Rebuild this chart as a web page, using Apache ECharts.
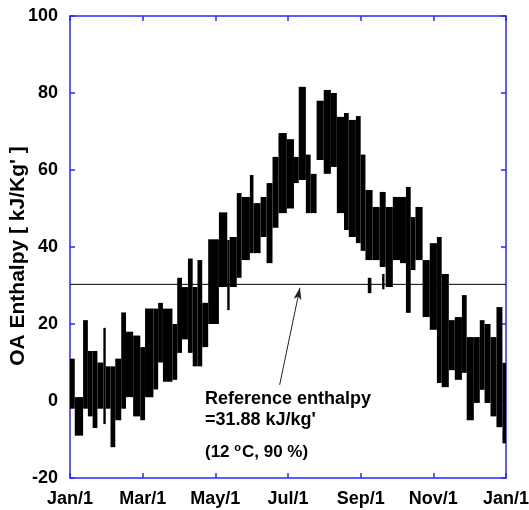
<!DOCTYPE html>
<html>
<head>
<meta charset="utf-8">
<script src="https://cdn.jsdelivr.net/npm/echarts@6/dist/echarts.min.js"></script>
<style>
  html, body { margin: 0; padding: 0; background: #fff; }
  #chart { width: 529px; height: 510px; }
</style>
</head>
<body>
<div id="chart"></div>
<script>
// x axis: day of year, one tick every 2 months
var monthLabels = ['Jan/1', 'Mar/1', 'May/1', 'Jul/1', 'Sep/1', 'Nov/1', 'Jan/1'];
var yTicks = [-20, 0, 20, 40, 60, 80, 100];

var dayFrom = [0, 4, 11, 15, 19, 23, 28, 30, 34, 38, 43, 47, 53, 59, 63, 70, 74, 78, 86, 90,
  94, 99, 103, 107, 111, 116, 125, 132, 134, 140, 144, 151, 154, 160, 165, 170, 175, 182, 188, 192,
  198, 202, 207, 213, 219, 224, 230, 234, 240, 244, 248, 254, 260, 265, 271, 277, 282, 286, 290, 296,
  302, 308, 312, 318, 323, 329, 333, 339, 344, 348, 353, 358, 363, 250, 262];
var dayTo = [4, 11, 15, 19, 23, 28, 30, 34, 38, 43, 47, 53, 59, 63, 70, 74, 78, 86, 90, 94,
  99, 103, 107, 111, 116, 125, 132, 134, 140, 144, 151, 154, 160, 165, 170, 175, 182, 188, 192, 198,
  202, 207, 213, 219, 224, 230, 234, 240, 244, 248, 254, 260, 265, 271, 277, 282, 286, 290, 296, 302,
  308, 312, 318, 323, 329, 333, 339, 344, 348, 353, 358, 363, 366, 253, 264];
var lowVal = [-2, -9, -2, -4, -7, -2, -6, -2, -12, -5, -2, 1, -4, -5, 1, 3, 10, 5, 5.5, 12.5,
  16, 12.5, 9, 9, 14, 20, 29.6, 23.6, 29.6, 32, 36.6, 38.4, 38.4, 42.6, 35.8, 45, 48.8, 50, 56.6, 57.4,
  48.8, 48.8, 62.6, 59, 60.8, 48.8, 44.4, 42.6, 41, 39, 36.6, 36.6, 34.8, 29.6, 36.6, 35.8, 22.9, 34, 36.6, 21.8,
  18.5, 4.7, 3.6, 8, 5.5, 7.3, -5, -0.5, 2.9, -0.5, -4, -6.8, -11, 28, 29];
var highVal = [11, 1, 21, 13, 13, 10, 19, 9, 9, 11, 23, 18, 17, 14, 24, 24, 25.5, 24, 20, 32,
  29.6, 37, 29.6, 36.6, 25.5, 42, 49, 41.8, 42.6, 54, 53, 58.7, 51.4, 53, 56.6, 63.4, 69.6, 68, 63.4, 81.6,
  64, 59, 78, 80.8, 80, 73.8, 74.8, 73, 74, 64, 54.8, 50.4, 54.3, 50.4, 53, 53, 55.6, 47.8, 50.4, 36.6,
  41, 42.6, 33, 21, 21.8, 27.5, 16.6, 16.6, 21, 20, 16.6, 24.4, 9.9, 32, 33];

var refValue = 30.3;
var arrowFrom = [176, 4.2];
var arrowTo = [193, 29.4];

var font = 'Arial, "Liberation Sans", sans-serif';
var axisBlue = '#2a2aff';

var blocks = [];
for (var i = 0; i < dayFrom.length; i++) {
  blocks.push([dayFrom[i], dayTo[i], lowVal[i], highVal[i]]);
}

var chart = echarts.init(document.getElementById('chart'));

var xBase = {
  type: 'value',
  min: 0,
  max: 366,
  interval: 61,
  axisLine: { show: true, onZero: false, lineStyle: { color: axisBlue, width: 1.5 } },
  axisTick: { show: true, inside: true, length: 5, lineStyle: { color: axisBlue, width: 1.5 } },
  splitLine: { show: false }
};
var yBase = {
  type: 'value',
  min: -20,
  max: 100,
  interval: 20,
  axisLine: { show: true, onZero: false, lineStyle: { color: axisBlue, width: 1.5 } },
  axisTick: { show: true, inside: true, length: 5, lineStyle: { color: axisBlue, width: 1.5 } },
  splitLine: { show: false }
};

var option = {
  animation: false,
  backgroundColor: '#fff',
  grid: { left: 70, right: 23, top: 16, bottom: 32, containLabel: false, outerBoundsMode: 'none' },
  xAxis: [
    Object.assign({}, xBase, {
      position: 'bottom',
      axisLabel: {
        color: '#000', fontFamily: font, fontWeight: 'bold', fontSize: 18, margin: 12,
        formatter: function (v) { return monthLabels[Math.round(v / 61)]; }
      }
    }),
    Object.assign({}, xBase, { position: 'top', axisLabel: { show: false } })
  ],
  yAxis: [
    Object.assign({}, yBase, {
      position: 'left',
      name: "OA Enthalpy [ kJ/Kg' ]",
      nameLocation: 'middle',
      nameGap: 41,
      nameMoveOverlap: false,
      nameTextStyle: { color: '#000', fontFamily: font, fontWeight: 'bold', fontSize: 21, padding: [0, 18, 0, 0] },
      axisLabel: {
        color: '#000', fontFamily: font, fontWeight: 'bold', fontSize: 18, margin: 12,
        formatter: function (v) { return yTicks.indexOf(v) >= 0 ? String(v) : ''; }
      }
    }),
    Object.assign({}, yBase, { position: 'right', axisLabel: { show: false } })
  ],
  series: [
    {
      type: 'custom',
      data: blocks,
      encode: { x: [0, 1], y: [2, 3] },
      clip: true,
      renderItem: function (params, api) {
        var p1 = api.coord([api.value(0), api.value(3)]);
        var p2 = api.coord([api.value(1), api.value(2)]);
        return {
          type: 'rect',
          shape: { x: p1[0], y: p1[1], width: p2[0] - p1[0], height: p2[1] - p1[1] },
          style: { fill: '#000' }
        };
      }
    },
    {
      type: 'line',
      data: [[0, refValue], [366, refValue]],
      symbol: 'none',
      lineStyle: { color: '#000', width: 1 },
      silent: true,
      markLine: {
        silent: true,
        symbol: ['none', 'arrow'],
        symbolSize: [6, 12],
        label: { show: false },
        lineStyle: { color: '#222', width: 1, type: 'solid' },
        data: [[{ coord: arrowFrom }, { coord: arrowTo }]]
      }
    }
  ],
  graphic: [
    {
      type: 'text', left: 205, top: 390,
      style: { text: 'Reference enthalpy', fill: '#000', font: 'bold 18px ' + font }
    },
    {
      type: 'text', left: 205, top: 411,
      style: { text: "=31.88 kJ/kg'", fill: '#000', font: 'bold 18px ' + font }
    },
    {
      type: 'text', left: 205, top: 442,
      style: {
        text: '{n|(12 }{s|o}{n|C, 90 %)}',
        rich: {
          n: { fill: '#000', font: 'bold 17px ' + font },
          s: { fill: '#000', font: 'bold 11px ' + font, padding: [0, 1, 9, 0] }
        }
      }
    }
  ]
};

chart.setOption(option);
</script>
</body>
</html>
